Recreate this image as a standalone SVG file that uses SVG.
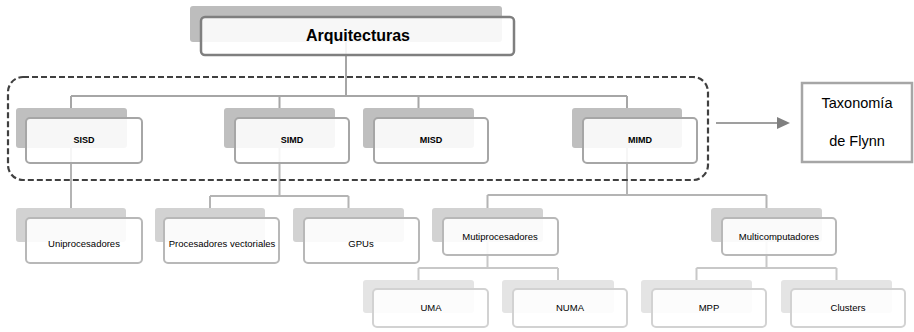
<svg xmlns="http://www.w3.org/2000/svg" width="914" height="332" viewBox="0 0 914 332">
<style>
text{font-family:"Liberation Sans",Arial,sans-serif;fill:#000;text-anchor:middle}
.t0{font-size:16px;font-weight:bold}
.t1{font-size:9px;font-weight:bold}
.t2{font-size:9.5px}
.tx{font-size:14.5px}
.sh0{fill:#bdbdbd}
.sh1{fill:#bfbfbf}
.sh2{fill:#d2d2d2}
.sh3{fill:#e4e4e4}
.fr{fill:#fff;fill-opacity:0.88;stroke-width:2}
.f0{stroke:#7f7f7f;stroke-width:2.5}
.f1{stroke:#a6a6a6}
.f2{stroke:#b8b8b8}
.f3{stroke:#d2d2d2}
.c1{fill:none;stroke:#a6a6a6;stroke-width:2}
.c2{fill:none;stroke:#b4b4b4;stroke-width:2}
.c3{fill:none;stroke:#c8c8c8;stroke-width:2}
</style>
<g id="connectors">
<path class="c1" d="M346 42V96M71 96H627M71 96V108M279.5 96V108M418.5 96V108M627 96V108"/>
<path class="c2" d="M71 148V208M279.5 148V196M210 196H348.5M210 196V208M348.5 196V208M627 148V195M487.5 195H766.5M487.5 195V208M766.5 195V208"/>
<path class="c3" d="M487.5 242V268M418.5 268H558M418.5 268V280M558 268V280M766.5 242V268M696.5 268H836.5M696.5 268V280M836.5 268V280"/>
<path d="M716 123H779" fill="none" stroke="#7f7f7f" stroke-width="1.5"/>
<polygon points="777,117 790,123 777,129" fill="#7f7f7f"/>
</g>
<rect id="flynn-group" x="8" y="77" width="700" height="103" rx="15" fill="none" stroke="#404040" stroke-width="2.2" stroke-dasharray="6 3"/>
<g id="arquitecturas">
<rect class="sh0" x="190" y="6" width="312" height="36" rx="3"/>
<rect class="fr f0" x="201" y="17" width="313" height="38" rx="4"/>
<text class="t0" x="358" y="41">Arquitecturas</text>
</g>
<g id="sisd">
<rect class="sh1" x="16" y="108" width="111" height="40" rx="3"/>
<rect class="fr f1" x="26" y="118" width="116" height="45" rx="4"/>
<text class="t1" x="84" y="143">SISD</text>
</g>
<g id="simd">
<rect class="sh1" x="224" y="108" width="111" height="40" rx="3"/>
<rect class="fr f1" x="235" y="118" width="114" height="45" rx="4"/>
<text class="t1" x="292" y="143">SIMD</text>
</g>
<g id="misd">
<rect class="sh1" x="363" y="108" width="111" height="40" rx="3"/>
<rect class="fr f1" x="374" y="118" width="114" height="45" rx="4"/>
<text class="t1" x="431" y="143">MISD</text>
</g>
<g id="mimd">
<rect class="sh1" x="572" y="108" width="110" height="40" rx="3"/>
<rect class="fr f1" x="583" y="118" width="114" height="45" rx="4"/>
<text class="t1" x="640" y="143">MIMD</text>
</g>
<g id="taxonomia">
<rect x="802" y="83" width="110" height="79" fill="#fff" stroke="#a6a6a6" stroke-width="2.5"/>
<text class="tx" x="857" y="108">Taxonomía</text>
<text class="tx" x="857" y="146">de Flynn</text>
</g>
<g id="uniprocesadores">
<rect class="sh2" x="16" y="208" width="110" height="34" rx="3"/>
<rect class="fr f2" x="26" y="218" width="116" height="45" rx="4"/>
<text class="t2" x="84" y="247">Uniprocesadores</text>
</g>
<g id="procesadores-vectoriales">
<rect class="sh2" x="155" y="208" width="110" height="34" rx="3"/>
<rect class="fr f2" x="164" y="218" width="115" height="45" rx="4"/>
<text class="t2" x="222" y="247">Procesadores vectoriales</text>
</g>
<g id="gpus">
<rect class="sh2" x="293" y="208" width="111" height="34" rx="3"/>
<rect class="fr f2" x="304" y="218" width="115" height="45" rx="4"/>
<text class="t2" x="361" y="247">GPUs</text>
</g>
<g id="mutiprocesadores">
<rect class="sh2" x="432" y="208" width="111" height="34" rx="3"/>
<rect class="fr f2" x="443" y="218" width="115" height="37" rx="4"/>
<text class="t2" x="500" y="240">Mutiprocesadores</text>
</g>
<g id="multicomputadores">
<rect class="sh2" x="711" y="208" width="111" height="34" rx="3"/>
<rect class="fr f2" x="722" y="218" width="114" height="37" rx="4"/>
<text class="t2" x="779" y="240">Multicomputadores</text>
</g>
<g id="uma">
<rect class="sh3" x="363" y="280" width="111" height="33" rx="3"/>
<rect class="fr f3" x="373" y="289" width="115" height="38" rx="4"/>
<text class="t2" x="431" y="311">UMA</text>
</g>
<g id="numa">
<rect class="sh3" x="502" y="280" width="112" height="33" rx="3"/>
<rect class="fr f3" x="513" y="289" width="114" height="38" rx="4"/>
<text class="t2" x="570" y="311">NUMA</text>
</g>
<g id="mpp">
<rect class="sh3" x="641" y="280" width="111" height="33" rx="3"/>
<rect class="fr f3" x="652" y="289" width="114" height="38" rx="4"/>
<text class="t2" x="709" y="311">MPP</text>
</g>
<g id="clusters">
<rect class="sh3" x="781" y="280" width="111" height="33" rx="3"/>
<rect class="fr f3" x="791" y="289" width="114" height="38" rx="4"/>
<text class="t2" x="848" y="311">Clusters</text>
</g>
</svg>
